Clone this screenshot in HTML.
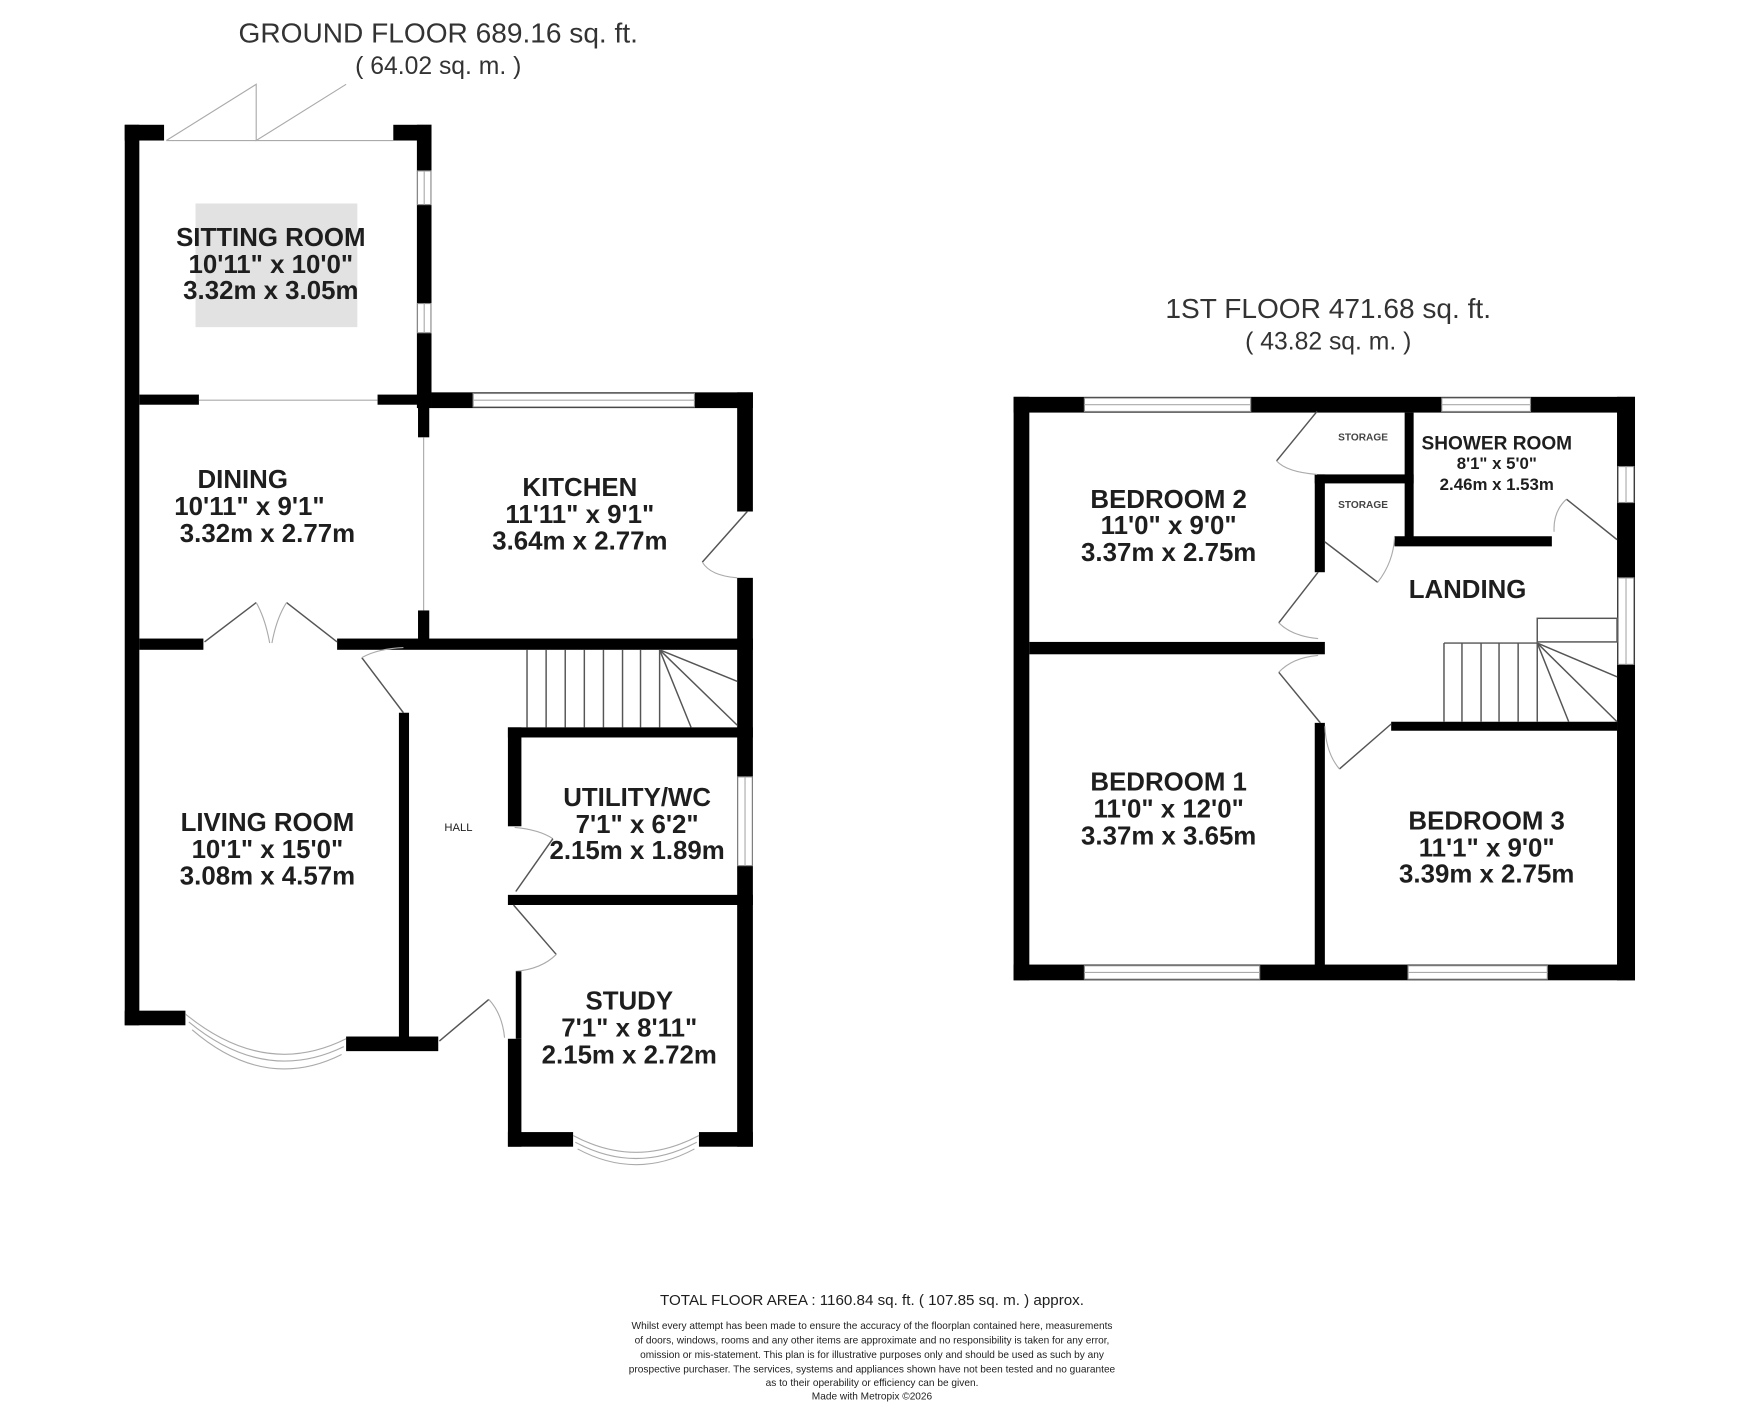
<!DOCTYPE html>
<html><head><meta charset="utf-8"><style>
html,body{margin:0;padding:0;background:#fff;}
svg{display:block;}
text{font-family:"Liberation Sans",Arial,sans-serif;fill:#1e1e1e;}
.b{font-weight:bold;font-size:23px;text-anchor:middle;}
.s{font-weight:bold;font-size:17px;text-anchor:middle;}
.t{font-size:25px;text-anchor:middle;fill:#333;}
.w{fill:#000;}
.win{fill:#fff;stroke:#888;stroke-width:1;}
.ln{stroke:#555;stroke-width:1.3;fill:none;}
.tl{stroke:#aaa;stroke-width:1;fill:none;}
</style></head><body>
<svg width="1753" height="1421" viewBox="0 0 1560 1264" preserveAspectRatio="none" xmlns="http://www.w3.org/2000/svg">
<!-- Titles -->
<text class="t" x="390" y="38">GROUND FLOOR 689.16 sq. ft.</text>
<text class="t" x="390" y="66" style="font-size:22px">( 64.02 sq. m. )</text>
<text class="t" x="1182" y="283">1ST FLOOR 471.68 sq. ft.</text>
<text class="t" x="1182" y="311" style="font-size:22px">( 43.82 sq. m. )</text>

<!-- ===== GROUND FLOOR ===== -->
<rect x="174" y="181" width="144" height="110" fill="#e2e2e2"/>
<polyline class="tl" points="148,125 228,75 228,125 308,75"/>
<line class="tl" x1="148" y1="125" x2="350" y2="125"/>
<rect class="w" x="111" y="111" width="35" height="14"/>
<rect class="w" x="111" y="111" width="13" height="801"/>
<rect class="w" x="350" y="111" width="34" height="14"/>
<rect class="w" x="371" y="111" width="13" height="252"/>
<rect class="win" x="371.5" y="152" width="12" height="30"/>
<line class="tl" x1="377.5" y1="152" x2="377.5" y2="182"/>
<rect class="win" x="371.5" y="270" width="12" height="26"/>
<line class="tl" x1="377.5" y1="270" x2="377.5" y2="296"/>
<rect class="w" x="124" y="351" width="53" height="9"/>
<rect class="w" x="336" y="351" width="48" height="9"/>
<line class="tl" x1="177" y1="356" x2="336" y2="356"/>
<rect class="w" x="384" y="349" width="286" height="14"/>
<rect class="win" x="421" y="350" width="197" height="12"/>
<line class="tl" x1="421" y1="356" x2="618" y2="356"/>
<rect class="w" x="656" y="349" width="14" height="106"/>
<rect class="w" x="656" y="514" width="14" height="506"/>
<line class="ln" x1="665" y1="455" x2="625" y2="500"/>
<path class="tl" d="M625,500 Q632,512 656,514"/>
<rect class="w" x="372" y="360" width="10" height="29"/>
<rect class="w" x="372" y="543" width="10" height="30"/>
<line class="tl" x1="377" y1="389" x2="377" y2="543"/>
<rect class="w" x="124" y="568" width="57" height="10"/>
<rect class="w" x="300" y="568" width="370" height="10"/>
<line class="ln" x1="182" y1="571" x2="228" y2="536"/>
<line class="ln" x1="300" y1="571" x2="255" y2="536"/>
<path class="tl" d="M228,536 Q236,550 240,572"/>
<path class="tl" d="M255,536 Q246,550 242,572"/>
<rect class="w" x="111" y="899" width="54" height="13"/>
<path class="tl" d="M165,902 Q236,960 308,924"/>
<path class="tl" d="M168,909 Q236,965 306,931"/>
<path class="tl" d="M171,916 Q236,972 304,938"/>
<rect class="w" x="308" y="922" width="82" height="13"/>
<rect class="w" x="355" y="634" width="9" height="300"/>
<line class="ln" x1="322" y1="585" x2="359" y2="634"/>
<path class="tl" d="M322,585 Q336,577 359,576"/>
<line class="ln" x1="391" y1="926" x2="435" y2="889"/>
<path class="tl" d="M435,889 Q447,902 449,923"/>
<g class="ln">
<line x1="469" y1="578" x2="469" y2="647"/><line x1="486" y1="578" x2="486" y2="647"/>
<line x1="503" y1="578" x2="503" y2="647"/><line x1="520" y1="578" x2="520" y2="647"/>
<line x1="537" y1="578" x2="537" y2="647"/><line x1="554" y1="578" x2="554" y2="647"/>
<line x1="570" y1="578" x2="570" y2="647"/><line x1="587" y1="578" x2="587" y2="647"/>
<line x1="587" y1="578" x2="656" y2="606"/><line x1="587" y1="578" x2="656" y2="645"/>
<line x1="587" y1="578" x2="615" y2="647"/>
</g>
<rect class="w" x="452" y="647" width="218" height="9"/>
<rect class="w" x="452" y="647" width="12" height="88"/>
<path class="tl" d="M458,736 Q480,738 492,746"/>
<line class="ln" x1="492" y1="746" x2="459" y2="793"/>
<rect class="w" x="452" y="796" width="218" height="9"/>
<rect class="win" x="656.5" y="691" width="13" height="79"/>
<line class="tl" x1="663" y1="691" x2="663" y2="770"/>
<line class="ln" x1="457" y1="805" x2="495" y2="849"/>
<path class="tl" d="M495,849 Q482,862 459,864"/>
<rect class="w" x="459" y="864" width="5" height="60"/>
<rect class="w" x="452" y="924" width="12" height="96"/>
<rect class="w" x="452" y="1007" width="58" height="13"/>
<rect class="w" x="622" y="1007" width="48" height="13"/>
<path class="tl" d="M510,1010 Q566,1040 622,1010"/>
<path class="tl" d="M512,1016 Q566,1045 620,1016"/>
<path class="tl" d="M514,1022 Q566,1050 618,1022"/>
<text class="b" x="241" y="219">SITTING ROOM</text>
<text class="b" x="241" y="243">10'11" x 10'0"</text>
<text class="b" x="241" y="266">3.32m x 3.05m</text>
<text class="b" x="216" y="434">DINING</text>
<text class="b" x="222" y="458">10'11" x 9'1"</text>
<text class="b" x="238" y="482">3.32m x 2.77m</text>
<text class="b" x="516" y="441">KITCHEN</text>
<text class="b" x="516" y="465">11'11" x 9'1"</text>
<text class="b" x="516" y="489">3.64m x 2.77m</text>
<text class="b" x="238" y="739">LIVING ROOM</text>
<text class="b" x="238" y="763">10'1" x 15'0"</text>
<text class="b" x="238" y="787">3.08m x 4.57m</text>
<text x="408" y="739" style="font-size:10px;text-anchor:middle">HALL</text>
<text class="b" x="567" y="717">UTILITY/WC</text>
<text class="b" x="567" y="741">7'1" x 6'2"</text>
<text class="b" x="567" y="764">2.15m x 1.89m</text>
<text class="b" x="560" y="898">STUDY</text>
<text class="b" x="560" y="922">7'1" x 8'11"</text>
<text class="b" x="560" y="946">2.15m x 2.72m</text>

<!-- ===== FIRST FLOOR ===== -->
<rect class="w" x="902" y="353" width="553" height="14"/>
<rect class="w" x="902" y="353" width="14" height="519"/>
<rect class="w" x="1439" y="353" width="16" height="519"/>
<rect class="w" x="902" y="858" width="553" height="14"/>
<rect class="win" x="965" y="354" width="148" height="12"/><line class="tl" x1="965" y1="360" x2="1113" y2="360"/>
<rect class="win" x="1283" y="354" width="79" height="12"/><line class="tl" x1="1283" y1="360" x2="1362" y2="360"/>
<rect class="win" x="965" y="859" width="156" height="12"/><line class="tl" x1="965" y1="865" x2="1121" y2="865"/>
<rect class="win" x="1253" y="859" width="124" height="12"/><line class="tl" x1="1253" y1="865" x2="1377" y2="865"/>
<rect class="win" x="1440" y="415" width="14" height="32"/><line class="tl" x1="1447" y1="415" x2="1447" y2="447"/>
<rect class="win" x="1440" y="514" width="14" height="77"/><line class="tl" x1="1447" y1="514" x2="1447" y2="591"/>
<rect class="w" x="1250" y="367" width="8" height="111"/>
<rect class="w" x="1170" y="422" width="88" height="8"/>
<rect class="w" x="1170" y="422" width="9" height="87"/>
<rect class="w" x="1241" y="477" width="140" height="9"/>
<rect class="w" x="916" y="571" width="263" height="11"/>
<rect class="w" x="1170" y="643" width="9" height="220"/>
<rect class="w" x="1238" y="642" width="201" height="8"/>
<line class="ln" x1="1172" y1="366" x2="1136" y2="410"/>
<path class="tl" d="M1136,410 Q1145,420 1172,422"/>
<line class="ln" x1="1179" y1="482" x2="1226" y2="518"/>
<path class="tl" d="M1226,518 Q1240,500 1241,478"/>
<line class="ln" x1="1173" y1="509" x2="1138" y2="554"/>
<path class="tl" d="M1138,554 Q1150,566 1173,568"/>
<path class="tl" d="M1173,583 Q1150,585 1138,598"/>
<line class="ln" x1="1138" y1="598" x2="1175" y2="643"/>
<line class="ln" x1="1238" y1="644" x2="1192" y2="684"/>
<path class="tl" d="M1192,684 Q1180,670 1179,646"/>
<line class="ln" x1="1394" y1="444" x2="1439" y2="480"/>
<path class="tl" d="M1394,444 Q1382,455 1383,473"/>
<g class="ln">
<rect x="1368" y="550" width="71" height="21" fill="none"/>
<line x1="1285" y1="572" x2="1368" y2="572"/>
<line x1="1285" y1="572" x2="1285" y2="642"/><line x1="1301" y1="572" x2="1301" y2="642"/>
<line x1="1318" y1="572" x2="1318" y2="642"/><line x1="1334" y1="572" x2="1334" y2="642"/>
<line x1="1351" y1="572" x2="1351" y2="642"/><line x1="1368" y1="572" x2="1368" y2="642"/>
<line x1="1368" y1="572" x2="1439" y2="602"/><line x1="1368" y1="572" x2="1439" y2="642"/>
<line x1="1368" y1="572" x2="1396" y2="642"/>
</g>
<text x="1213" y="392" style="font-size:9px;text-anchor:middle;font-weight:bold;fill:#444">STORAGE</text>
<text x="1213" y="452" style="font-size:9px;text-anchor:middle;font-weight:bold;fill:#444">STORAGE</text>
<text class="s" x="1332" y="400">SHOWER ROOM</text>
<text class="s" x="1332" y="417" style="font-size:15px">8'1" x 5'0"</text>
<text class="s" x="1332" y="436" style="font-size:15px">2.46m x 1.53m</text>
<text class="b" x="1040" y="452">BEDROOM 2</text>
<text class="b" x="1040" y="475">11'0" x 9'0"</text>
<text class="b" x="1040" y="499">3.37m x 2.75m</text>
<text class="b" x="1306" y="532">LANDING</text>
<text class="b" x="1040" y="703">BEDROOM 1</text>
<text class="b" x="1040" y="727">11'0" x 12'0"</text>
<text class="b" x="1040" y="751">3.37m x 3.65m</text>
<text class="b" x="1323" y="738">BEDROOM 3</text>
<text class="b" x="1323" y="762">11'1" x 9'0"</text>
<text class="b" x="1323" y="785">3.39m x 2.75m</text>

<text x="776" y="1161" style="font-size:13.5px;text-anchor:middle">TOTAL FLOOR AREA : 1160.84 sq. ft. ( 107.85 sq. m. ) approx.</text>
<g style="font-size:9px;text-anchor:middle;fill:#555">
<text x="776" y="1182">Whilst every attempt has been made to ensure the accuracy of the floorplan contained here, measurements</text>
<text x="776" y="1195">of doors, windows, rooms and any other items are approximate and no responsibility is taken for any error,</text>
<text x="776" y="1208">omission or mis-statement. This plan is for illustrative purposes only and should be used as such by any</text>
<text x="776" y="1221">prospective purchaser. The services, systems and appliances shown have not been tested and no guarantee</text>
<text x="776" y="1233">as to their operability or efficiency can be given.</text>
<text x="776" y="1245">Made with Metropix ©2026</text>
</g>
</svg>
</body></html>
